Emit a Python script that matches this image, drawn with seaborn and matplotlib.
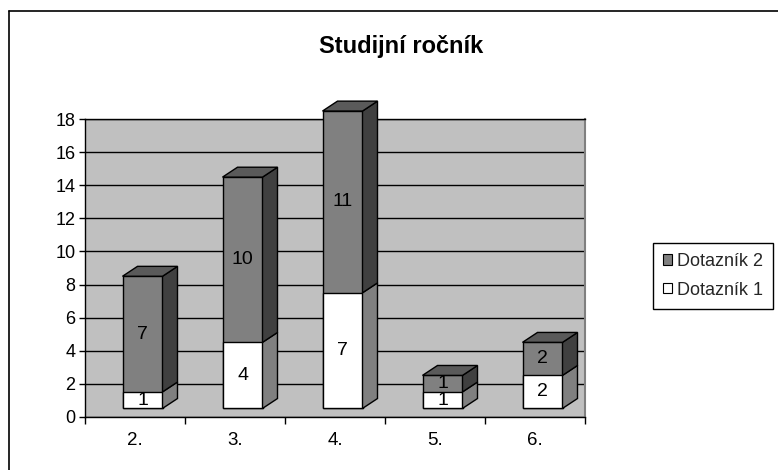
import numpy as np
import pandas as pd
import matplotlib
matplotlib.use("Agg")
import matplotlib.pyplot as plt
from matplotlib.patches import Polygon, Patch
from matplotlib.lines import Line2D
import seaborn as sns

# Survey results by year of study
categories = ["2.", "3.", "4.", "5.", "6."]
dotaznik_1 = [1, 4, 7, 1, 2]
dotaznik_2 = [7, 10, 11, 1, 2]
series_names = ["Dotazník 1", "Dotazník 2"]
y_ticks = [0, 2, 4, 6, 8, 10, 12, 14, 16, 18]
title = "Studijní ročník"

sns.set_theme(style="white")
plt.rcParams["font.family"] = ["Liberation Sans", "DejaVu Sans"]

df = pd.DataFrame({"rocnik": categories, "d1": dotaznik_1, "d2": dotaznik_2})
df["celkem"] = df["d1"] + df["d2"]

W, H = 778, 470
fig = plt.figure(figsize=(W / 100, H / 100), dpi=100)
fig.patch.set_facecolor("white")
ax = fig.add_axes([85 / W, 53.3 / H, 500 / W, 297.4 / H])
ax.set_facecolor("#c0c0c0")

# Front faces: full stack in dark grey, lower segment in white on top of it
sns.barplot(data=df, x="rocnik", y="celkem", color="#808080", saturation=1,
            width=0.4, edgecolor="black", linewidth=1, ax=ax, zorder=3)
n = len(ax.patches)
sns.barplot(data=df, x="rocnik", y="d1", color="white", saturation=1,
            width=0.4, edgecolor="black", linewidth=1, ax=ax, zorder=3)
gray_bars = ax.patches[:n]
white_bars = ax.patches[n:]

# pseudo-3D: push front faces forward, then add side and top faces
shift_x, lift = 0.075, 0.5
dx, dy = 0.15, 0.6
for p in ax.patches:
    p.set_x(p.get_x() + shift_x)
    p.set_y(p.get_y() + lift)
    p.set_clip_on(False)

for g, w, v1, v2 in zip(gray_bars, white_bars, dotaznik_1, dotaznik_2):
    x0 = g.get_x()
    x1 = x0 + g.get_width()
    yb = g.get_y()
    yw = yb + w.get_height()
    yt = yb + g.get_height()
    faces = [
        ([(x1, yb), (x1 + dx, yb + dy), (x1 + dx, yw + dy), (x1, yw)], "#808080"),
        ([(x1, yw), (x1 + dx, yw + dy), (x1 + dx, yt + dy), (x1, yt)], "#404040"),
        ([(x0, yt), (x1, yt), (x1 + dx, yt + dy), (x0 + dx, yt + dy)], "#5a5a5a"),
    ]
    for pts, fc in faces:
        ax.add_patch(Polygon(pts, closed=True, facecolor=fc, edgecolor="black",
                             linewidth=1, zorder=3, clip_on=False))
    xc = (x0 + x1) / 2
    ax.text(xc, (yb + yw) / 2, str(v1), ha="center", va="center",
            fontsize=14, color="black", zorder=5)
    ax.text(xc, (yw + yt) / 2, str(v2), ha="center", va="center",
            fontsize=14, color="black", zorder=5)

ax.set_xlim(-0.5, len(categories) - 0.5)
ax.set_ylim(0, 18)
ax.set_xlabel("")
ax.set_ylabel("")

ax.set_yticks(y_ticks)
ax.yaxis.grid(True, color="black", linewidth=1)
ax.set_axisbelow(True)
ax.tick_params(axis="y", direction="out", length=4, width=1, color="black",
               labelsize=13, pad=3, left=True, labelcolor="black")

ax.set_xticks(np.arange(-0.5, len(categories), 1.0), labels=[""] * (len(categories) + 1))
ax.set_xticks(np.arange(len(categories)), labels=categories, minor=True)
ax.tick_params(axis="x", which="major", direction="out", length=5, width=1,
               color="black", bottom=True)
ax.tick_params(axis="x", which="minor", length=0, pad=11, labelsize=13.5,
               labelcolor="black", bottom=True)

for side in ["left", "bottom", "top"]:
    ax.spines[side].set_visible(True)
    ax.spines[side].set_color("black")
    ax.spines[side].set_linewidth(1)
ax.spines["right"].set_color("#808080")
ax.spines["right"].set_linewidth(1.5)

fig.text(401 / W, 1 - 46 / H, title, ha="center", va="center",
         fontsize=17, fontweight="bold", color="black")

handles = [Patch(facecolor="#808080", edgecolor="black", linewidth=0.8),
           Patch(facecolor="white", edgecolor="black", linewidth=0.8)]
leg = fig.legend(handles, [series_names[1], series_names[0]], loc="upper left",
                 bbox_to_anchor=(653 / W, 1 - 243 / H), borderaxespad=0,
                 handlelength=0.5, handleheight=0.5, handletextpad=0.3,
                 labelspacing=0.65, borderpad=0.55, fontsize=13,
                 frameon=True, fancybox=False, edgecolor="black", framealpha=1)
leg.get_frame().set_linewidth(1)

# outer chart frame
fig.add_artist(Line2D([8.5 / W, 8.5 / W], [0, 1 - 11 / H], transform=fig.transFigure,
                      color="black", linewidth=1.2))
fig.add_artist(Line2D([8.5 / W, 1], [1 - 11 / H, 1 - 11 / H], transform=fig.transFigure,
                      color="black", linewidth=1.2))

fig.savefig("out.png", dpi=100)
